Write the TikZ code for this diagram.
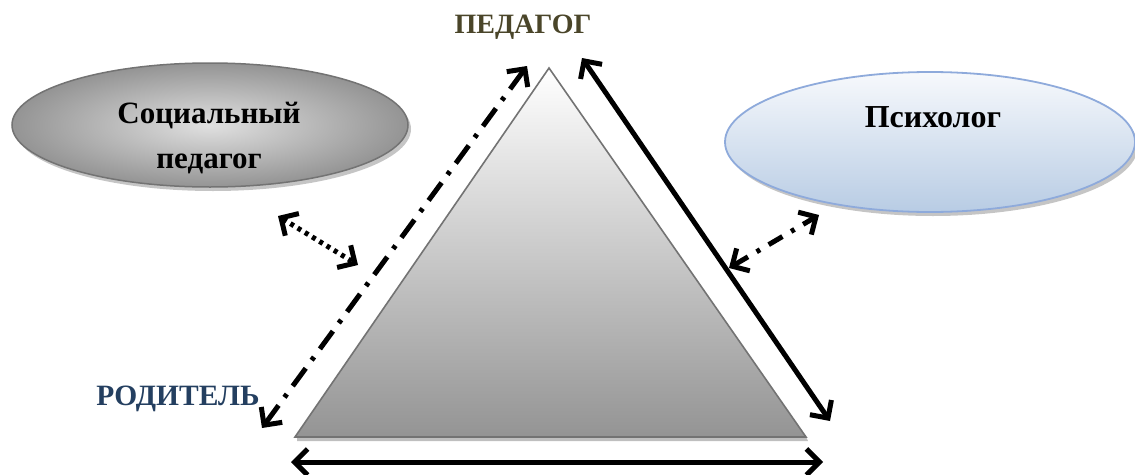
\documentclass[tikz,border=0pt]{standalone}
\usepackage{fontspec}
\setmainfont{Liberation Serif}
\usetikzlibrary{arrows.meta,shadows,shapes.geometric}
\definecolor{pedcol}{HTML}{4A4529}
\definecolor{rodcol}{HTML}{243F60}
\definecolor{psyedge}{HTML}{8EAADB}
\definecolor{psytop}{HTML}{F7F9FC}
\definecolor{psybot}{HTML}{B8CCE4}
\tikzset{
  lbl/.style={font=\bfseries\fontsize{31}{36}\selectfont, inner sep=0pt},
  conn/.style={line width=5pt, {Straight Barb[length=13pt,width=26pt,line width=5pt]}-{Straight Barb[length=13pt,width=26pt,line width=5pt]}},
  dashdot/.style={dash pattern=on 22pt off 10pt on 4pt off 10pt},
  dotline/.style={dash pattern=on 4pt off 4.5pt},
  ellshadow/.style={drop shadow={shadow xshift=3pt, shadow yshift=-4pt, fill=black!45, opacity=0.5}},
}
\begin{document}
\begin{tikzpicture}[x=1pt,y=-1pt]
\useasboundingbox (0,0) rectangle (1135,474);
% triangle
\coordinate (tA) at (549,68);
\coordinate (tL) at (295,437);
\coordinate (tR) at (806,437);
\fill[black!25] (297,437) -- (806,437) -- (808,441) -- (297,441) -- cycle;
\path[top color=white, bottom color=black!42, draw=black!55, line width=1.6pt] (tA) -- (tR) -- (tL) -- cycle;
% left ellipse
\node[ellipse, minimum width=396pt, minimum height=124pt, draw=black!55, line width=1.5pt,
  inner color=black!12, outer color=black!42, ellshadow] (soc) at (210,125) {};
\node[lbl, align=center, text=black] (soct) at (209,138) {Социальный\\[9pt]педагог};
% right ellipse
\node[ellipse, minimum width=410pt, minimum height=140pt, draw=psyedge, line width=1.8pt,
  top color=psytop, bottom color=psybot, ellshadow] (psy) at (930,142) {};
\node[lbl, text=black, font=\bfseries\fontsize{32}{36}\selectfont] (psyt) at (933,117) {Психолог};
% labels
\node[lbl, text=pedcol, font=\bfseries\fontsize{28}{32}\selectfont] (ped) at (523,27) {ПЕДАГОГ};
\node[lbl, text=rodcol, font=\bfseries\fontsize{29.5}{32}\selectfont] (rod) at (178,399) {РОДИТЕЛЬ};
% connector end points
\coordinate (a1) at (262,428); \coordinate (a2) at (527,66);
\coordinate (b1) at (582,58);  \coordinate (b2) at (830,421);
\coordinate (c1) at (291,462); \coordinate (c2) at (823,462);
\coordinate (d1) at (278,216); \coordinate (d2) at (358,265);
\coordinate (e1) at (729,268); \coordinate (e2) at (819,215);
\draw[conn, dashdot] (a1) -- (a2);
\draw[conn] (b1) -- (b2);
\draw[conn] (c1) -- (c2);
\draw[conn, dotline] (d1) -- (d2);
\draw[conn, dash pattern=on 16pt off 10pt on 4pt off 10pt] (e1) -- (e2);
\end{tikzpicture}
\end{document}
